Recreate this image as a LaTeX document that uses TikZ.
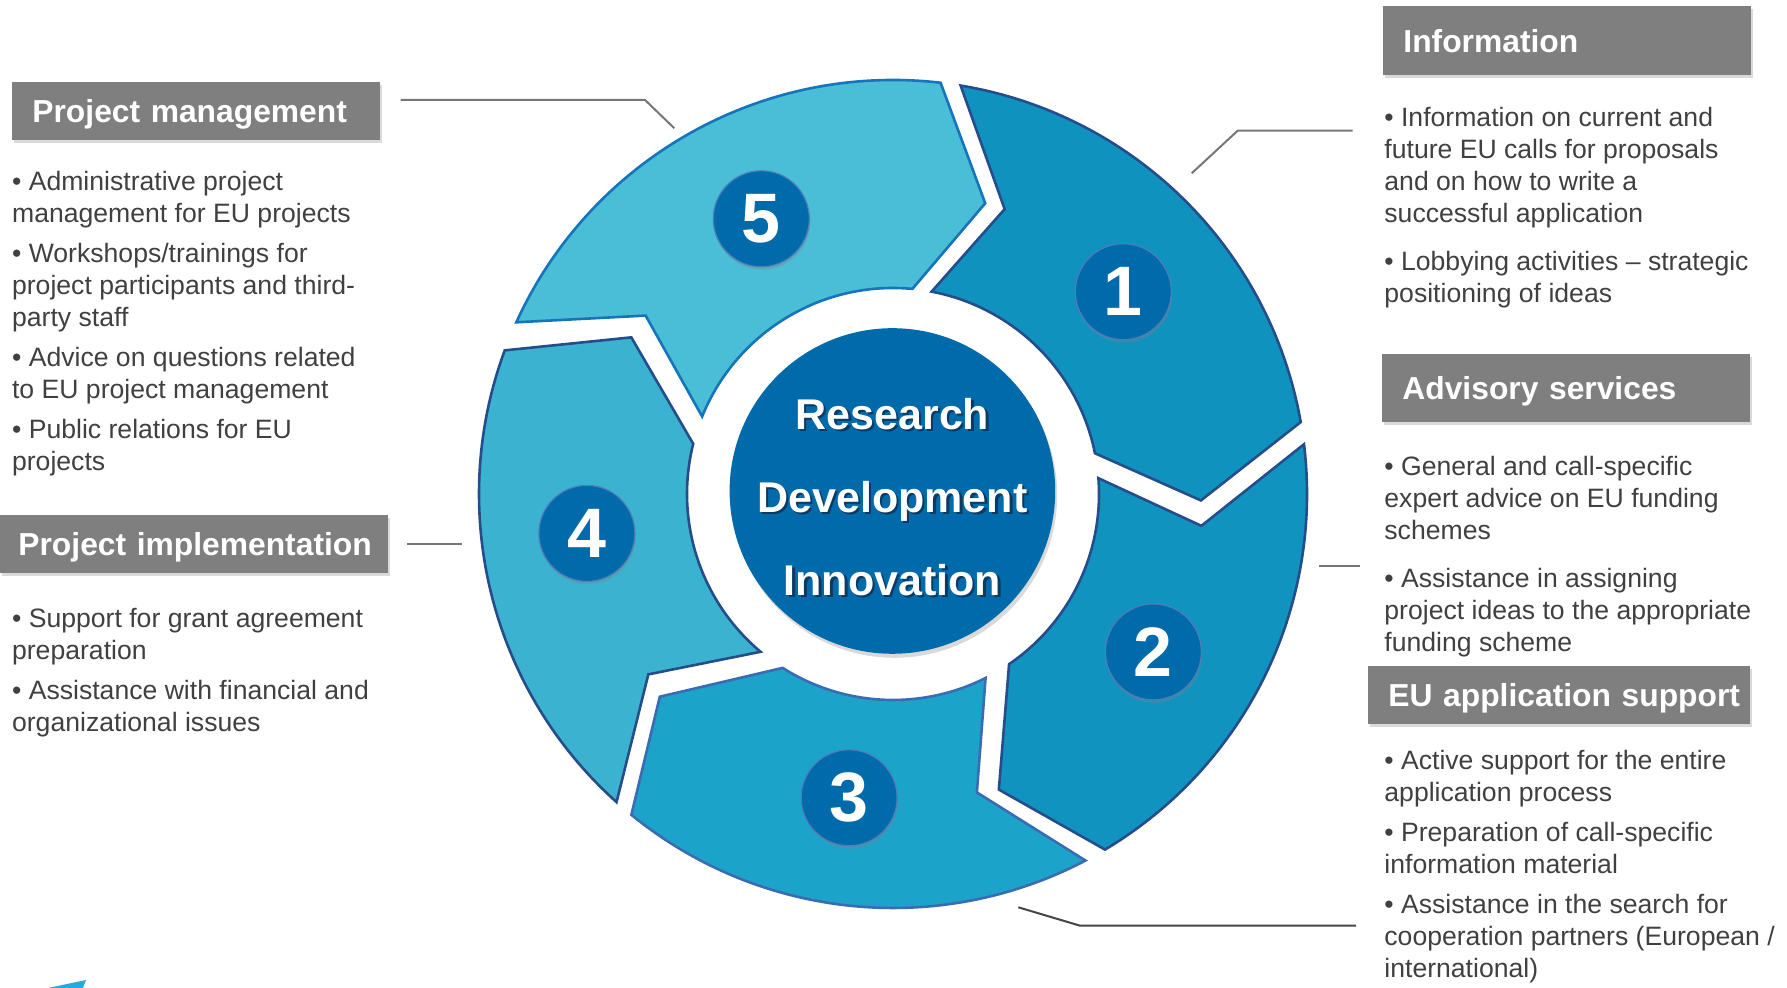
\documentclass[tikz,border=0pt]{standalone}
\usepackage{fontspec}
\setmainfont{Liberation Sans}
\usetikzlibrary{shadows}

\definecolor{boxgray}{HTML}{7F7F7F}
\definecolor{txtgray}{HTML}{404040}
\definecolor{leadgray}{HTML}{767676}
\definecolor{leaddark}{HTML}{454545}
\definecolor{segA}{HTML}{1092BF}
\definecolor{segB}{HTML}{1193C0}
\definecolor{segC}{HTML}{1CA3CA}
\definecolor{segD}{HTML}{3BB3D0}
\definecolor{segE}{HTML}{4ABED7}
\definecolor{rimdark}{HTML}{254D8C}
\definecolor{rimmid}{HTML}{3A6CB4}
\definecolor{rimlight}{HTML}{1574BA}
\definecolor{coreblue}{HTML}{006AAA}
\definecolor{numrim}{HTML}{4F7DBA}
\definecolor{txtshade}{HTML}{0B3A62}
\definecolor{logoblue}{HTML}{29A9E0}

\newcommand{\shd}[1]{\makebox[0pt][l]{\hspace{1.2pt}\raisebox{-1.2pt}{\color{txtshade}#1}}#1}

\begin{document}
\begin{tikzpicture}[x=0.5pt, y=0.5pt,
  head/.style={anchor=north west, fill=boxgray, text=white, inner xsep=10pt,
    inner ysep=0pt, align=left, text height=11.4pt, text depth=0pt,
    font=\fontsize{15.9}{18}\selectfont\bfseries,
    drop shadow={shadow xshift=1pt, shadow yshift=-1.5pt, opacity=0.3}},
  body/.style={anchor=north west, inner sep=0pt, align=left, text=txtgray,
    font=\fontsize{13.3}{16}\selectfont},
  num/.style={circle, fill=coreblue, draw=numrim, line width=0.6pt,
    minimum size=48pt, inner sep=0pt, text=white,
    font=\fontsize{35}{35}\selectfont\bfseries,
    drop shadow={shadow xshift=0.5pt, shadow yshift=-1.5pt, opacity=0.35}},
  lead/.style={draw=leadgray, line width=1pt},
  seg/.style={line width=1.3pt}]

    \useasboundingbox (0,0) rectangle (1787,988);

    % ring of five arrows
    \begin{scope}[shift={(893,494)}]
    \filldraw[seg, fill=segA, draw=rimdark] (80.6:414) arc[start angle=80.6, end angle=10, radius=414]
      -- (-1.2:308) -- (11.4:206) arc[start angle=11.4, end angle=79.2, radius=206] -- (68.6:306) -- cycle;
    \filldraw[seg, fill=segB, draw=rimdark] (6.9:414) arc[start angle=6.9, end angle=-59.2, radius=414]
      -- (-70.3:314) -- (-55.7:206) arc[start angle=-55.7, end angle=4.4, radius=206] -- (-5.9:310) -- cycle;
    \filldraw[seg, fill=segC, draw=rimmid] (-62.3:414) arc[start angle=-62.3, end angle=-129.2, radius=414]
      -- (-139:309) -- (-122.4:206) arc[start angle=-122.4, end angle=-63.3, radius=206] -- (-74.3:310) -- cycle;
    \filldraw[seg, fill=segD, draw=rimdark] (-131.9:414) arc[start angle=-131.9, end angle=-200.3, radius=414]
      -- (-210.9:305) -- (-194.1:206) arc[start angle=-194.1, end angle=-130, radius=206] -- (-143.6:304) -- cycle;
    \filldraw[seg, fill=segE, draw=rimlight] (-204.5:414) arc[start angle=-204.5, end angle=-276.6, radius=414]
      -- (-287.6:305) -- (-275.4:206) arc[start angle=-275.4, end angle=-202.1, radius=206] -- (-215.8:305) -- cycle;
    \end{scope}

    \node[circle, fill=coreblue, minimum size=162.8pt, inner sep=0pt,
      drop shadow={shadow xshift=1pt, shadow yshift=-2pt, opacity=0.3}] (core) at (892.4,497) {};
    \node[text=white, align=center, font=\fontsize{21.5}{41.5}\selectfont\bfseries] (rdi) at (892.4,490)
      {\shd{Research}\\ \shd{Development}\\ \shd{Innovation}};

    \node[num] (n1) at (1123.3,696.3) {1};
    \node[num] (n2) at (1153.4,336.1) {2};
    \node[num] (n3) at (849.1,190.2) {3};
    \node[num] (n4) at (586.9,454.6) {4};
    \node[num] (n5) at (761.3,769.2) {5};

    % headings
    \node[head, text width=164pt, minimum height=34.5pt] (info) at (1383,982) {Information};
    \node[head, text width=164pt, minimum height=33.9pt] (advice) at (1382,634) {Advisory services};
    \node[head, text width=171pt, minimum height=28.7pt] (apply) at (1368,322) {\mbox{EU application support}};
    \node[head, text width=164pt, minimum height=29pt] (manage) at (12,906) {Project management};
    \node[head, inner xsep=9pt, text width=176pt, minimum height=28.9pt] (impl) at (0,473) {\mbox{Project implementation}};

    % bullet texts
    \node[body] (info-txt) at (1384,881) {• Information on current and\\ future EU calls for proposals\\
      and on how to write a\\ successful application\\[8pt] • Lobbying activities – strategic\\ positioning of ideas};
    \node[body] (advice-txt) at (1384,532) {• General and call-specific\\ expert advice on EU funding\\
      schemes\\[8pt] • Assistance in assigning\\ project ideas to the appropriate\\ funding scheme};
    \node[body] (apply-txt) at (1384,238) {• Active support for the entire\\ application process\\[4pt]
      • Preparation of call-specific\\ information material\\[4pt] • Assistance in the search for\\
      cooperation partners (European /\\ international)};
    \node[body] (manage-txt) at (11.7,817) {• Administrative project\\ management for EU projects\\[4pt]
      • Workshops/trainings for\\ project participants and third-\\ party staff\\[4pt]
      • Advice on questions related\\ to EU project management\\[4pt] • Public relations for EU\\ projects};
    \node[body] (impl-txt) at (11.7,380) {• Support for grant agreement\\ preparation\\[4pt]
      • Assistance with financial and\\ organizational issues};

    % leader lines
    \coordinate (manage-a) at (400.7,888);
    \coordinate (manage-b) at (645,888);
    \coordinate (manage-c) at (674.3,859.7);
    \coordinate (info-a) at (1352.7,857.3);
    \coordinate (info-b) at (1237.7,857.3);
    \coordinate (info-c) at (1191.7,814.7);
    \coordinate (impl-a) at (407.3,444);
    \coordinate (impl-b) at (461.7,444);
    \coordinate (advice-a) at (1319.3,422);
    \coordinate (advice-b) at (1360,422);
    \coordinate (apply-a) at (1356,62.3);
    \coordinate (apply-b) at (1080,62.3);
    \coordinate (apply-c) at (1018.3,80.7);

    \draw[lead] (manage-a) -- (manage-b) -- (manage-c);
    \draw[lead] (info-a) -- (info-b) -- (info-c);
    \draw[lead] (impl-a) -- (impl-b);
    \draw[lead] (advice-a) -- (advice-b);
    \draw[lead, draw=leaddark] (apply-a) -- (apply-b) -- (apply-c);

    \fill[logoblue] (48,0) -- (86,8) -- (83,0) -- cycle;
\end{tikzpicture}
\end{document}
